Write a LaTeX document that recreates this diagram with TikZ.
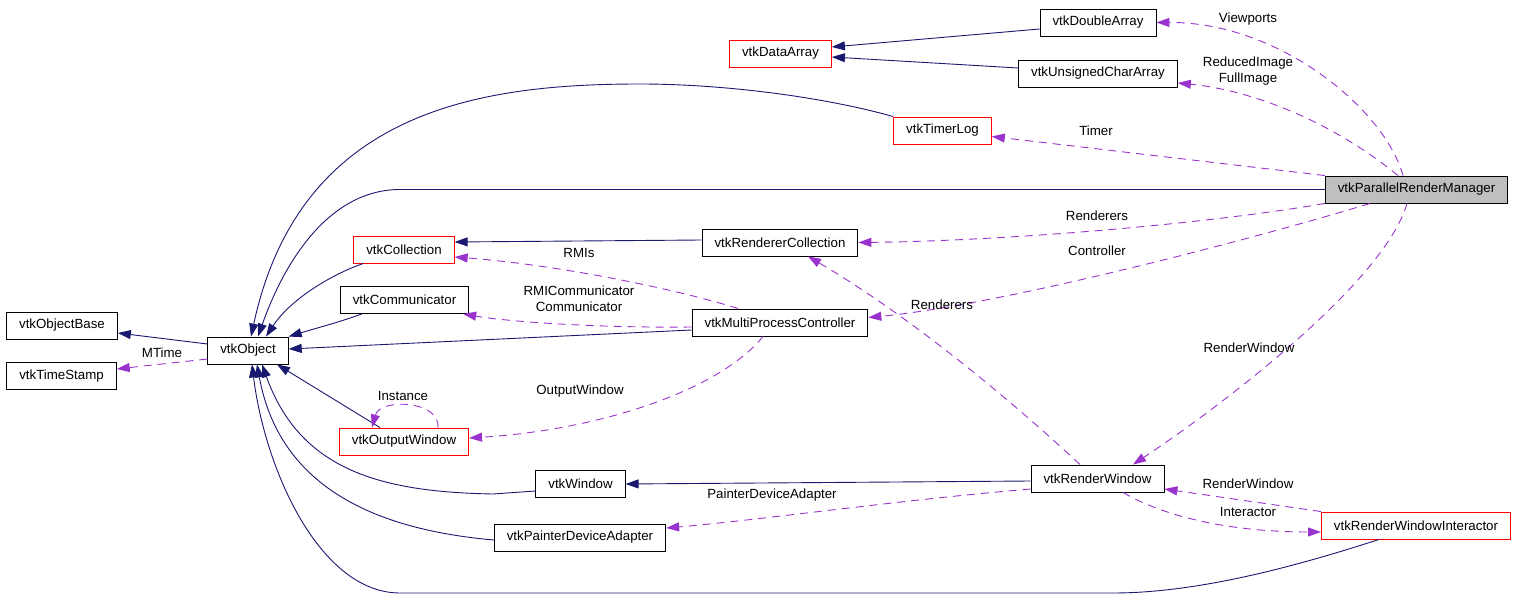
\documentclass[tikz,border=0pt]{standalone}
\usepackage{fontspec}
\setmainfont{Liberation Sans}
\usetikzlibrary{arrows.meta}
\definecolor{inhblue}{HTML}{191970}
\definecolor{usepurple}{HTML}{9A32CD}
\definecolor{boxgray}{HTML}{BFBFBF}
\tikzset{
  cls/.style={draw=black, line width=0.9pt, minimum height=27pt, inner xsep=12.5pt, inner ysep=0pt, font=\fontsize{13.3}{16}\selectfont},
  redcls/.style={cls, draw=red},
  inh/.style={draw=inhblue, line width=0.9pt, -{Triangle[length=13pt,width=9pt]}},
  uses/.style={draw=usepurple, line width=0.9pt, dash pattern=on 8pt off 6pt, -{Triangle[length=13pt,width=9pt]}},
  lbl/.style={font=\fontsize{13.3}{16}\selectfont, align=center, inner sep=0pt}
}

\begin{document}
\begin{tikzpicture}[x=1pt,y=-1pt]
                \useasboundingbox (0,0) rectangle (1517,612);
                % classes
                \node[cls] (dbl) at (1098,22.5) {vtkDoubleArray};
                \node[redcls] (darr) at (780.5,53.5) {vtkDataArray};
                \node[cls] (uchar) at (1098,73.5) {vtkUnsignedCharArray};
                \node[redcls] (timer) at (942.5,130.5) {vtkTimerLog};
                \node[cls, fill=boxgray] (prm) at (1416.5,189.5) {vtkParallelRenderManager};
                \node[redcls] (coll) at (404,249.5) {vtkCollection};
                \node[cls] (rcoll) at (780,242.5) {vtkRendererCollection};
                \node[cls] (comm) at (404.5,300) {vtkCommunicator};
                \node[cls] (mpc) at (780,322.5) {vtkMultiProcessController};
                \node[cls] (obase) at (62,325.5) {vtkObjectBase};
                \node[cls] (obj) at (248,350.5) {vtkObject};
                \node[cls] (tstamp) at (61.5,376) {vtkTimeStamp};
                \node[redcls] (outw) at (404,441.5) {vtkOutputWindow};
                \node[cls] (win) at (580.5,484) {vtkWindow};
                \node[cls] (pda) at (580,537.5) {vtkPainterDeviceAdapter};
                \node[cls] (rwin) at (1097.5,478.5) {vtkRenderWindow};
                \node[redcls] (rwi) at (1416,525.5) {vtkRenderWindowInteractor};
                % inheritance
                \draw[inh] ([yshift=-6.5pt]dbl.west) -- ([yshift=6.5pt]darr.east);
                \draw[inh] ([yshift=5.5pt]uchar.west) -- ([yshift=-3.5pt]darr.east);
                \draw[inh] (timer.north west) .. controls (820,96) and (720,84) .. (640,84) .. controls (480,84) and (300,110) .. ([xshift=3pt]obj.north);
                \draw[inh] (prm.west) -- (400,189.5) .. controls (330,189.5) and (285,260) .. ([xshift=10pt]obj.north);
                \draw[inh] ([xshift=10pt]coll.south west) .. controls (330,275) and (290,300) .. ([xshift=18pt]obj.north);
                \draw[inh] ([xshift=22pt]comm.south west) .. controls (340,322) and (310,330) .. (obj.north east);
                \draw[inh] ([yshift=-7.5pt]mpc.west) -- ([yshift=1.5pt]obj.east);
                \draw[inh] ([yshift=6.5pt]obj.west) -- ([yshift=-7.5pt]obase.east);
                \draw[inh] ([xshift=-24pt]outw.north) -- ([xshift=29pt]obj.south);
                \draw[inh] ([yshift=-7pt]win.west) -- (493,494) .. controls (380,492) and (300,470) .. ([xshift=14pt]obj.south);
                \draw[inh] ([yshift=-2.5pt]pda.west) .. controls (380,530) and (280,490) .. ([xshift=9pt]obj.south);
                \draw[inh] ([xshift=-37pt]rwi.south) .. controls (1300,565) and (1200,593) .. (1113,593) -- (400,593) .. controls (320,593) and (265,470) .. ([xshift=4pt]obj.south);
                \draw[inh] ([yshift=-2.5pt]rwin.west) -- (win.east);
                \draw[inh] ([yshift=2.5pt]rcoll.west) -- ([yshift=7.5pt]coll.east);
                % members
                \draw[uses] ([xshift=-13.5pt]prm.north) .. controls (1385,110) and (1280,22) .. (dbl.east);
                \draw[uses] ([xshift=-18.5pt]prm.north) .. controls (1330,120) and (1250,90) .. ([yshift=-9.5pt]uchar.east);
                \draw[uses] (prm.north west) -- ([yshift=-6pt]timer.east);
                \draw[uses] (prm.south west) .. controls (1200,225) and (1000,241) .. (rcoll.east);
                \draw[uses] ([xshift=-46.5pt]prm.south) .. controls (1250,240) and (1000,305) .. ([yshift=5pt]mpc.east);
                \draw[uses] ([xshift=-9.5pt]prm.south) .. controls (1385,280) and (1230,400) .. ([xshift=35.5pt]rwin.north);
                \draw[uses] ([xshift=-42pt]mpc.north) .. controls (680,290) and (560,265) .. ([yshift=-7.5pt]coll.east);
                \draw[uses] ([yshift=-4.5pt]mpc.west) .. controls (600,328) and (510,322) .. ([xshift=-6pt]comm.south east);
                \draw[uses] ([xshift=-17pt]mpc.south) .. controls (720,390) and (600,430) .. ([yshift=3.5pt]outw.east);
                \draw[uses] ([xshift=34pt]outw.north) .. controls (440,400) and (380,398) .. ([xshift=-32pt]outw.north);
                \draw[uses] ([yshift=-8.5pt]obj.west) -- ([yshift=7pt]tstamp.east);
                \draw[uses] ([xshift=-17.5pt]rwin.north) .. controls (1000,390) and (900,310) .. ([xshift=28pt]rcoll.south);
                \draw[uses] ([yshift=-10.5pt]rwin.west) .. controls (900,500) and (760,520) .. ([yshift=9.5pt]pda.east);
                \draw[uses] (rwi.north west) -- ([yshift=-10.5pt]rwin.east);
                \draw[uses] ([xshift=25.5pt]rwin.south) .. controls (1170,520) and (1240,532) .. ([yshift=-6.5pt]rwi.west);
                % member names
                \node[lbl] (lViewports) at (1248,19) {Viewports};
                \node[lbl] (lImage) at (1248,71) {ReducedImage\\FullImage};
                \node[lbl] (lTimer) at (1096,131) {Timer};
                \node[lbl] (lRenderers) at (1097,216) {Renderers};
                \node[lbl] (lController) at (1097,251) {Controller};
                \node[lbl] (lRenderersB) at (942,305) {Renderers};
                \node[lbl] (lRenWin) at (1249,348) {RenderWindow};
                \node[lbl] (lRMIs) at (579,253) {RMIs};
                \node[lbl] (lComm) at (579,299) {RMICommunicator\\Communicator};
                \node[lbl] (lOutWin) at (580,391) {OutputWindow};
                \node[lbl] (lInstance) at (403,396) {Instance};
                \node[lbl] (lMTime) at (162,353) {MTime};
                \node[lbl] (lPainter) at (772,495) {PainterDeviceAdapter};
                \node[lbl] (lRenWinB) at (1248,484) {RenderWindow};
                \node[lbl] (lInteractor) at (1248,512) {Interactor};
            \end{tikzpicture}
\end{document}
